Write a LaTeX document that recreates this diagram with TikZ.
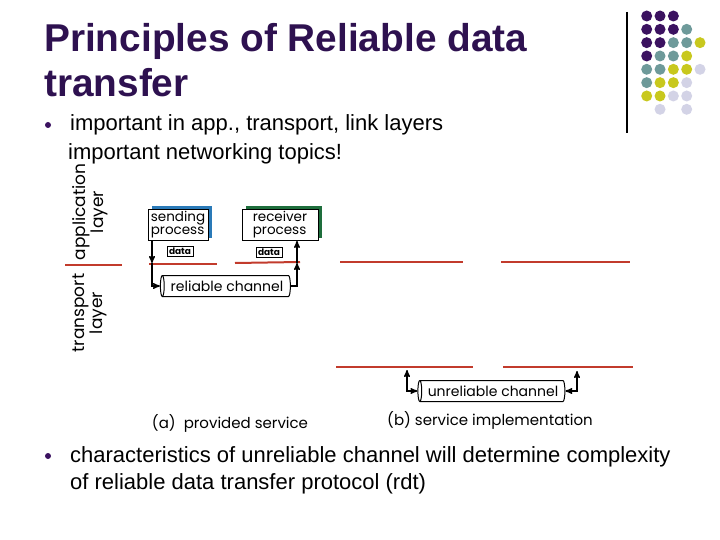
\documentclass[tikz,border=0pt]{standalone}
\usepackage{fontspec}
\setmainfont{Liberation Sans}
\newfontfamily\gothicfont{Poppins}
\usetikzlibrary{arrows,positioning,shapes.geometric,shadows}
\definecolor{titlepurple}{HTML}{2E1150}
\definecolor{dotpurple}{HTML}{3B1260}
\definecolor{dotteal}{HTML}{6E9A9A}
\definecolor{dotyellow}{HTML}{C8C81E}
\definecolor{dotlav}{HTML}{D3D3E6}
\definecolor{layerred}{HTML}{C23B2C}
\definecolor{sendblue}{HTML}{2A7AB8}
\definecolor{recvgreen}{HTML}{1E6E3C}
\tikzset{>=stealth'}
\tikzstyle{procbox}=[draw, fill=white, line width=0.8pt, minimum height=31pt,
inner sep=1.5pt, align=left, font=\gothicfont\fontsize{13.5}{13}\selectfont]
\tikzstyle{databox}=[draw, line width=1pt, minimum width=26pt, minimum height=10pt,
inner sep=0.8pt, font=\gothicfont\bfseries\fontsize{9}{9}\selectfont]
\tikzstyle{channel}=[draw, line width=1pt, cylinder, shape border rotate=180, aspect=0.3,
minimum width=21pt, inner sep=1pt, font=\gothicfont\fontsize{14}{14}\selectfont]
\tikzstyle{layerline}=[draw=layerred, line width=2pt]
\tikzstyle{layertext}=[rotate=90, align=center, font=\gothicfont\fontsize{17}{16}\selectfont]
\tikzstyle{bodytext}=[anchor=base west, inner sep=0, font=\fontsize{22}{26}\selectfont]
\tikzstyle{flow}=[line width=1.4pt]

\begin{document}
\begin{tikzpicture}[x=1pt, y=-1pt]
	\useasboundingbox (0,0) rectangle (720,540);
	% title and bullets
	\node[anchor=base west, text=titlepurple, font=\bfseries\fontsize{38.8}{44}\selectfont,
	inner sep=0] (title1) at (44,52) {Principles of Reliable data};
	\node[anchor=base west, text=titlepurple, font=\bfseries\fontsize{38.8}{44}\selectfont,
	inner sep=0] (title2) at (44,97) {transfer};
	\fill[dotpurple] (48,125) circle (3);
	\node[bodytext] (item1) at (70,131) {important in app., transport, link layers};
	\node[bodytext] (item1b) at (68,160) {important networking topics!};
	\fill[dotpurple] (48,456) circle (3);
	\node[bodytext] (item2) at (70,462)
	{characteristics of unreliable channel will determine complexity};
	\node[bodytext] (item2b) at (70,489) {of reliable data transfer protocol (rdt)};
	
	% decoration top right
	\draw[line width=1.2pt] (627,12) -- (627,133);
	\foreach \c/\r/\col in {1/1/dotpurple, 2/1/dotpurple, 3/1/dotpurple,
		1/2/dotpurple, 2/2/dotpurple, 3/2/dotpurple, 4/2/dotteal,
		1/3/dotpurple, 2/3/dotpurple, 3/3/dotteal, 4/3/dotteal, 5/3/dotyellow,
		1/4/dotpurple, 2/4/dotteal, 3/4/dotteal, 4/4/dotyellow,
		1/5/dotteal, 2/5/dotteal, 3/5/dotyellow, 4/5/dotyellow, 5/5/dotlav,
		1/6/dotteal, 2/6/dotyellow, 3/6/dotyellow, 4/6/dotlav,
		1/7/dotyellow, 2/7/dotyellow, 3/7/dotlav, 4/7/dotlav,
		2/8/dotlav, 4/8/dotlav}
	\fill[\col] ({646.7+13.33*(\c-1)},{16+13.33*(\r-1)}) circle (5.5);
	
	% layers
	\node[layertext] (applayer) at (90,212) {application\\layer};
	\node[layertext] (translayer) at (90,313) {transport\\layer};
	\draw[layerline] (65,265) -- (122,265);
	\draw[layerline] (149,264) -- (217,264);
	\draw[layerline] (235,263) -- (300,262);
	\draw[layerline] (340,262) -- (463,262);
	\draw[layerline] (501,262) -- (630,262);
	\draw[layerline] (336,367) -- (473,367);
	\draw[layerline] (503,367) -- (633,367);
	
	% (a) provided service
	\node[procbox, minimum width=60pt,
	general shadow={fill=sendblue, shadow xshift=4pt, shadow yshift=3pt}]
	(sendproc) at (178,225) {sending\\process};
	\node[procbox, minimum width=76pt,
	general shadow={fill=recvgreen, shadow xshift=4pt, shadow yshift=3pt}]
	(recvproc) at (280,225) {receiver\\process};
	\node[databox] (senddata) at (180,251) {data};
	\node[databox] (recvdata) at (269,252) {data};
	\node[channel, minimum height=130pt] (relchan) at (227,286) {reliable channel};
	\coordinate (sdown) at (152,263);
	\coordinate (rup) at (297,263);
	\draw[->, flow] (sendproc.south -| sdown) -- (sdown);
	\draw[->, flow] (sdown) |- (relchan.west);
	\draw[->, flow] (relchan.east) -| (rup);
	\draw[->, flow] (rup) -- (recvproc.south -| rup);
	\node[font=\gothicfont\fontsize{15}{15}\selectfont] (capa) at (230,423) {(a)~~provided service};
	
	% (b) service implementation
	\node[channel, minimum height=147pt] (unrelchan) at (493,391) {unreliable channel};
	\coordinate (lup) at (407,370);
	\coordinate (rup2) at (577,371);
	\draw[<->, flow] (lup) |- (unrelchan.west);
	\draw[<->, flow] (rup2) |- (unrelchan.east);
	\node[font=\gothicfont\fontsize{15}{15}\selectfont] (capb) at (490,420) {(b) service implementation};
\end{tikzpicture}
\end{document}
